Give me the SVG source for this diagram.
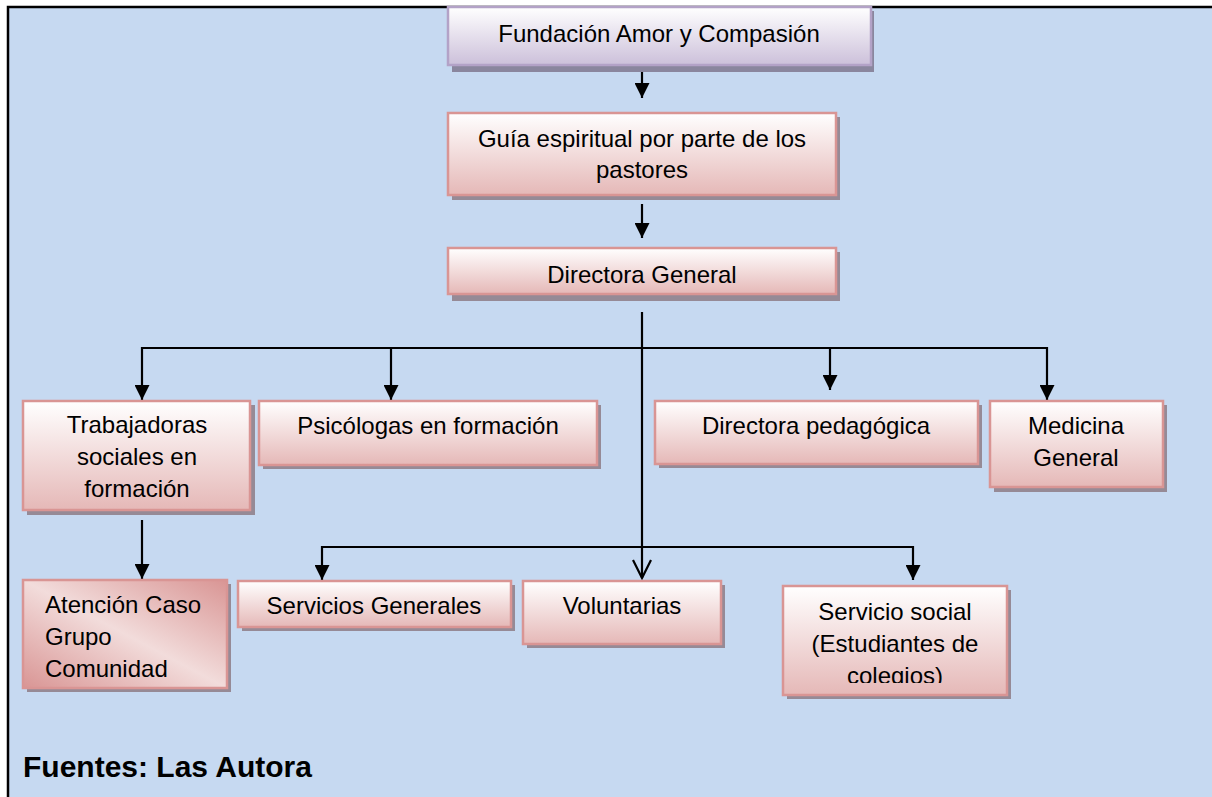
<svg xmlns="http://www.w3.org/2000/svg" width="1212" height="797" viewBox="0 0 1212 797">
<style>
.t{font-family:"Liberation Sans",Arial,sans-serif;font-size:24px;fill:#000}
.c{text-anchor:middle}
.box{fill:url(#pink);stroke:#D99594;stroke-width:2.5}
.sh{fill:#968A96}
.ln{stroke:#000;stroke-width:2.2;fill:none}
</style>
<defs>
<linearGradient id="pink" x1="0" y1="0" x2="0" y2="1">
<stop offset="0" stop-color="#FFFFFF"/>
<stop offset="1" stop-color="#E5B8B7"/>
</linearGradient>
<linearGradient id="lav" x1="0" y1="0" x2="0" y2="1">
<stop offset="0" stop-color="#FFFFFF"/>
<stop offset="1" stop-color="#CCC0DA"/>
</linearGradient>
<linearGradient id="diag" x1="0" y1="1" x2="1" y2="0">
<stop offset="0" stop-color="#D99594"/>
<stop offset="0.5" stop-color="#F2DCDB"/>
<stop offset="1" stop-color="#D99594"/>
</linearGradient>
<marker id="ah" markerUnits="userSpaceOnUse" markerWidth="15" markerHeight="15" refX="15" refY="7.5" orient="auto">
<path d="M0,0 L15,7.5 L0,15 z" fill="#000"/>
</marker>
<clipPath id="clipSS"><rect x="783" y="586" width="224" height="97"/></clipPath>
</defs>
<rect x="0" y="0" width="1212" height="797" fill="#FFFFFF"/>
<rect x="8" y="7" width="1204" height="790" fill="#C6D9F1"/>
<path d="M8,797 V7 H1212" stroke="#000" stroke-width="2.5" fill="none"/>

<g id="connectors">
<line class="ln" x1="642" y1="66" x2="642" y2="98" marker-end="url(#ah)"/>
<line class="ln" x1="642" y1="204" x2="642" y2="238" marker-end="url(#ah)"/>
<line class="ln" x1="642" y1="312" x2="642" y2="578"/>
<polyline class="ln" points="633,560 642,578 651,560"/>
<line class="ln" x1="142" y1="348" x2="1047" y2="348"/>
<line class="ln" x1="142" y1="347" x2="142" y2="400" marker-end="url(#ah)"/>
<line class="ln" x1="391" y1="348" x2="391" y2="400" marker-end="url(#ah)"/>
<line class="ln" x1="830" y1="348" x2="830" y2="390" marker-end="url(#ah)"/>
<line class="ln" x1="1047" y1="347" x2="1047" y2="400" marker-end="url(#ah)"/>
<line class="ln" x1="142" y1="520" x2="142" y2="579" marker-end="url(#ah)"/>
<line class="ln" x1="322" y1="547" x2="913" y2="547"/>
<line class="ln" x1="322" y1="546" x2="322" y2="580" marker-end="url(#ah)"/>
<line class="ln" x1="913" y1="546" x2="913" y2="580" marker-end="url(#ah)"/>
</g>

<g id="n-fundacion">
<rect x="452" y="11" width="422" height="61" fill="#8A869E"/>
<rect x="448" y="7" width="423" height="58" fill="url(#lav)" stroke="#B3A2C7" stroke-width="2.5"/>
<text class="t c" x="659" y="42">Fundación Amor y Compasión</text>
</g>

<g id="n-guia">
<rect class="sh" x="452" y="117" width="388" height="83"/>
<rect class="box" x="448" y="113" width="388" height="82"/>
<text class="t c" x="642" y="147">Guía espiritual por parte de los</text>
<text class="t c" x="642" y="178">pastores</text>
</g>

<g id="n-directora-general">
<rect class="sh" x="452" y="252" width="388" height="49"/>
<rect class="box" x="448" y="248" width="388" height="46"/>
<text class="t c" x="642" y="283">Directora General</text>
</g>

<g id="n-trabajadoras">
<rect class="sh" x="27" y="405" width="228" height="110"/>
<rect class="box" x="23" y="401" width="227" height="109"/>
<text class="t c" x="137" y="433">Trabajadoras</text>
<text class="t c" x="137" y="465">sociales en</text>
<text class="t c" x="137" y="497">formación</text>
</g>

<g id="n-psicologas">
<rect class="sh" x="263" y="405" width="338" height="64"/>
<rect class="box" x="259" y="401" width="338" height="64"/>
<text class="t c" x="428" y="434">Psicólogas en formación</text>
</g>

<g id="n-directora-pedagogica">
<rect class="sh" x="659" y="405" width="323" height="63"/>
<rect class="box" x="655" y="401" width="323" height="63"/>
<text class="t c" x="816" y="434">Directora pedagógica</text>
</g>

<g id="n-medicina">
<rect class="sh" x="994" y="405" width="173" height="87"/>
<rect class="box" x="990" y="401" width="173" height="86"/>
<text class="t c" x="1076" y="434">Medicina</text>
<text class="t c" x="1076" y="466">General</text>
</g>

<g id="n-atencion">
<rect class="sh" x="27" y="584" width="204" height="108"/>
<rect x="23" y="580" width="204" height="108" fill="url(#diag)" stroke="#D99594" stroke-width="2.5"/>
<text class="t" x="45" y="613">Atención Caso</text>
<text class="t" x="45" y="645">Grupo</text>
<text class="t" x="45" y="677">Comunidad</text>
</g>

<g id="n-servicios-generales">
<rect class="sh" x="242" y="585" width="273" height="46"/>
<rect class="box" x="238" y="581" width="273" height="46"/>
<text class="t c" x="374" y="614">Servicios Generales</text>
</g>

<g id="n-voluntarias">
<rect class="sh" x="527" y="585" width="198" height="63"/>
<rect class="box" x="523" y="581" width="198" height="63"/>
<text class="t c" x="622" y="614">Voluntarias</text>
</g>

<g id="n-servicio-social">
<rect class="sh" x="787" y="590" width="224" height="109"/>
<rect class="box" x="783" y="586" width="224" height="109"/>
<text class="t c" x="895" y="620">Servicio social</text>
<text class="t c" x="895" y="652">(Estudiantes de</text>
<text class="t c" x="895" y="684" clip-path="url(#clipSS)">colegios)</text>
</g>

<text x="23" y="777" font-family="Liberation Sans, Arial, sans-serif" font-size="30" font-weight="bold" fill="#000">Fuentes: Las Autora</text>
</svg>
